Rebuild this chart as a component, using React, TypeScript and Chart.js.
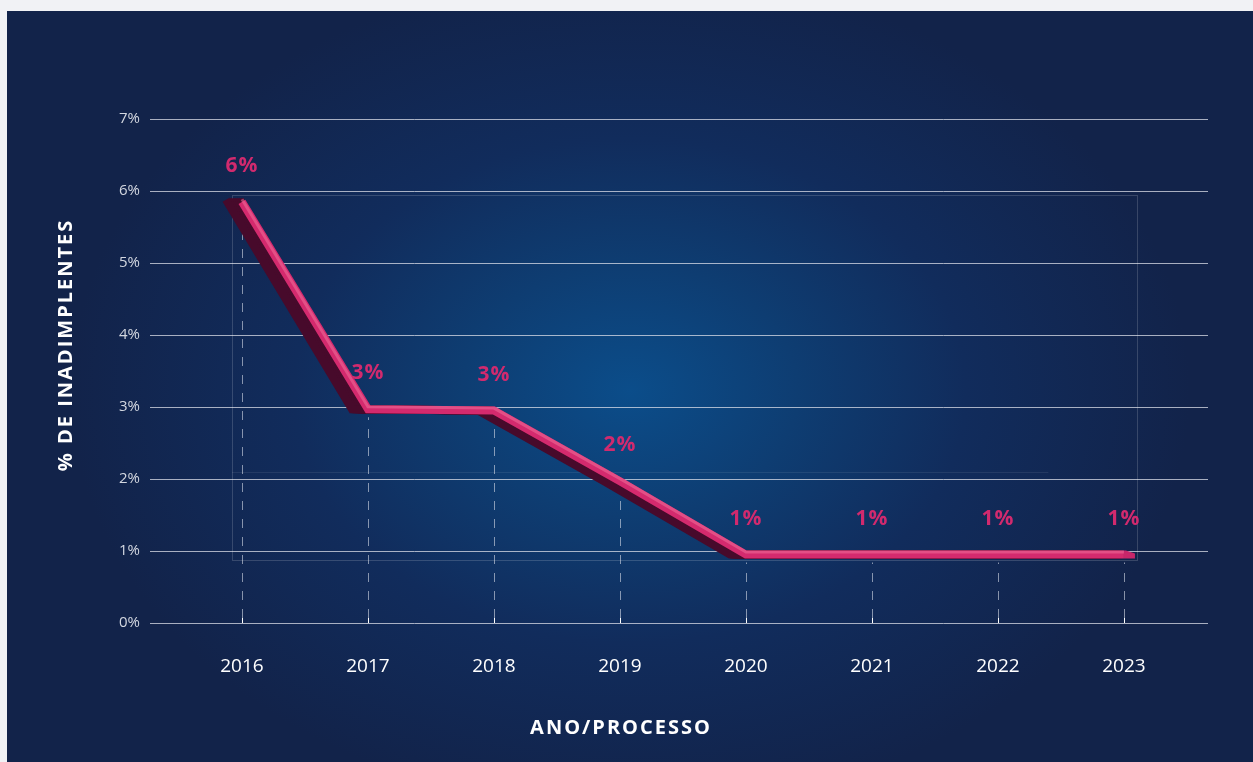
import React, { useEffect, useRef } from "react";
import { Chart, registerables } from "chart.js";

Chart.register(...registerables);

const years = [2016, 2017, 2018, 2019, 2020, 2021, 2022, 2023];
const values = [5.85, 2.97, 2.95, 1.97, 0.95, 0.95, 0.95, 0.95];
const pointLabels = ["6%", "3%", "3%", "2%", "1%", "1%", "1%", "1%"];
const yTickValues = [0, 1, 2, 3, 4, 5, 6, 7];
const yTitle = "% DE INADIMPLENTES";
const xTitle = "ANO/PROCESSO";

const FONT = "'Open Sans', 'Noto Sans', sans-serif";
const PINK = "#d42a6e";
const SHADOW = "#470a2b";

const decorPlugin = {
  id: "decor",
  beforeDatasetsDraw(chart: any) {
    const { ctx, scales } = chart;
    const x = scales.x;
    const y = scales.y;
    const meta = chart.getDatasetMeta(0);
    const pts = meta.data;
    ctx.save();
    // faint box
    ctx.strokeStyle = "rgba(255,255,255,0.16)";
    ctx.lineWidth = 1;
    const bx0 = x.getPixelForValue(years[0]) - 10;
    const bx1 = x.getPixelForValue(years[years.length - 1]) + 13;
    const by0 = y.getPixelForValue(5.95);
    const by1 = y.getPixelForValue(0.88);
    ctx.strokeRect(Math.round(bx0) + 0.5, Math.round(by0) + 0.5, Math.round(bx1 - bx0), Math.round(by1 - by0));
    ctx.strokeStyle = "rgba(255,255,255,0.08)";
    ctx.beginPath();
    const ly = Math.round(y.getPixelForValue(2.1)) + 0.5;
    ctx.moveTo(bx0, ly);
    ctx.lineTo(x.getPixelForValue(2022.4), ly);
    ctx.stroke();
    // dashed drop lines
    const axisY = y.getPixelForValue(0);
    pts.forEach((p: any) => {
      const px = Math.round(p.x) + 0.5;
      ctx.setLineDash([9, 9]);
      ctx.strokeStyle = "rgba(215,220,232,0.6)";
      ctx.lineWidth = 1;
      ctx.beginPath();
      ctx.moveTo(px, axisY - 5);
      ctx.lineTo(px, p.y + 8);
      ctx.stroke();
      ctx.setLineDash([]);
      ctx.strokeStyle = "#ffffff";
      ctx.beginPath();
      ctx.moveTo(px, axisY - 5);
      ctx.lineTo(px, axisY);
      ctx.stroke();
    });
    // 3D shadow side of the ribbon
    ctx.strokeStyle = SHADOW;
    ctx.lineWidth = 8;
    ctx.lineJoin = "miter";
    ctx.lineCap = "butt";
    for (let k = 2; k <= 16; k += 2) {
      ctx.beginPath();
      pts.forEach((p: any, i: number) => {
        if (i === 0) ctx.moveTo(p.x - k, p.y - 2);
        else ctx.lineTo(p.x - k, p.y);
      });
      ctx.stroke();
    }
    ctx.restore();
  },
  afterDatasetsDraw(chart: any) {
    const { ctx } = chart;
    const pts = chart.getDatasetMeta(0).data;
    ctx.save();
    // slanted end cap of the ribbon
    const last = pts[pts.length - 1];
    ctx.fillStyle = "#c8266a";
    ctx.beginPath();
    ctx.moveTo(last.x, last.y - 4);
    ctx.lineTo(last.x + 2, last.y - 4);
    ctx.lineTo(last.x + 11, last.y - 1);
    ctx.lineTo(last.x + 11, last.y + 4);
    ctx.lineTo(last.x, last.y + 4);
    ctx.closePath();
    ctx.fill();
    // highlight on the top face
    ctx.strokeStyle = "rgba(238,110,155,0.55)";
    ctx.lineWidth = 3;
    ctx.lineJoin = "miter";
    ctx.beginPath();
    pts.forEach((p: any, i: number) => {
      if (i === 0) ctx.moveTo(p.x, p.y - 2.5);
      else ctx.lineTo(p.x, p.y - 2.5);
    });
    ctx.stroke();
    // value labels
    ctx.fillStyle = "#d12a6e";
    ctx.font = `bold 21px ${FONT}`;
    (ctx as any).letterSpacing = "1px";
    ctx.textAlign = "center";
    ctx.textBaseline = "middle";
    pts.forEach((p: any, i: number) => {
      ctx.fillText(pointLabels[i], p.x, p.y - 36);
    });
    ctx.restore();
  },
  afterDraw(chart: any) {
    const { ctx, chartArea } = chart;
    ctx.save();
    ctx.fillStyle = "#ffffff";
    ctx.font = `bold 20px ${FONT}`;
    (ctx as any).letterSpacing = "2px";
    ctx.textAlign = "center";
    ctx.textBaseline = "middle";
    ctx.fillText(xTitle, 614, chartArea.bottom + 105);
    ctx.translate(59, chartArea.top + 226);
    ctx.rotate(-Math.PI / 2);
    ctx.fillText(yTitle, 0, 0);
    ctx.restore();
  },
};

export default function App() {
  const ref = useRef<HTMLCanvasElement>(null);

  useEffect(() => {
    document.body.style.margin = "0";
    document.body.style.overflow = "hidden";
    document.body.style.background = "#f1f2f5";
    const chart = new Chart(ref.current as HTMLCanvasElement, {
      type: "line",
      data: {
        datasets: [
          {
            data: years.map((yr, i) => ({ x: yr, y: values[i] })),
            borderColor: PINK,
            borderWidth: 8,
            pointRadius: 0,
            tension: 0,
            borderCapStyle: "butt",
            borderJoinStyle: "miter",
          } as any,
        ],
      },
      options: {
        responsive: false,
        animation: false,
        layout: { padding: { top: 108, right: 45, left: 0, bottom: 0 } },
        plugins: { legend: { display: false }, tooltip: { enabled: false } },
        scales: {
          x: {
            type: "linear",
            min: 2015.27,
            max: 2023.667,
            grid: { display: false },
            border: { display: false },
            afterBuildTicks: (s: any) => {
              s.ticks = years.map((v) => ({ value: v }));
            },
            afterFit: (s: any) => {
              s.height = 139;
            },
            ticks: {
              callback: (v: any) => String(v),
              color: "#ffffff",
              font: { size: 19, family: FONT },
              padding: 24,
              autoSkip: false,
              maxRotation: 0,
            },
          },
          y: {
            min: 0,
            max: 7,
            afterBuildTicks: (s: any) => {
              s.ticks = yTickValues.map((v) => ({ value: v }));
            },
            afterFit: (s: any) => {
              s.width = 143;
            },
            grid: { color: "rgba(220,223,232,0.75)", drawTicks: false, lineWidth: 1 },
            border: { display: false },
            ticks: {
              callback: (v: any) => `${v}%`,
              color: "#d3d7e0",
              font: { size: 15, family: FONT },
              padding: 10,
            },
          },
        },
      } as any,
      plugins: [decorPlugin],
    });
    return () => chart.destroy();
  }, []);

  return (
    <div
      style={{
        position: "absolute",
        left: 7,
        top: 11,
        width: 1246,
        height: 751,
        background:
          "radial-gradient(ellipse 560px 420px at 623px 380px, #0b4d8a 0%, #0e3d72 30%, #112c5c 60%, #12234a 100%)",
      }}
    >
      <canvas ref={ref} width={1246} height={751} style={{ display: "block" }} />
    </div>
  );
}
